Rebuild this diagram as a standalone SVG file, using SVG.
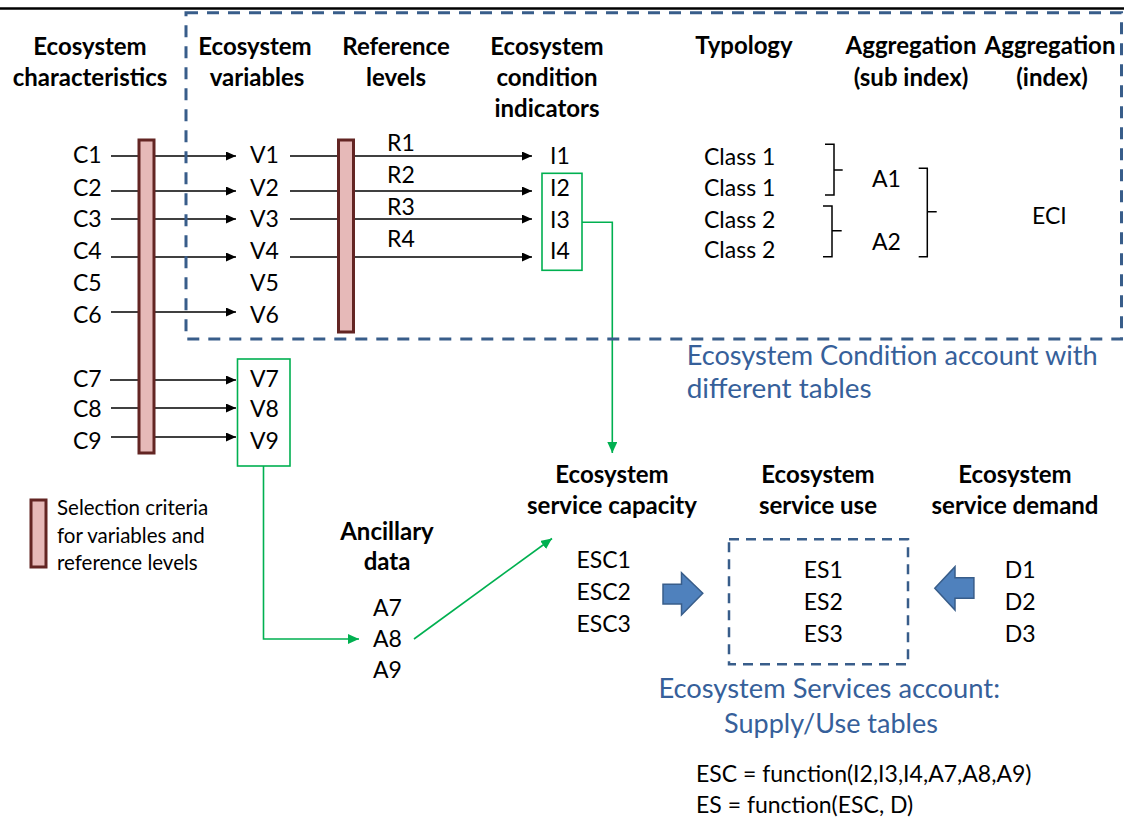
<svg xmlns="http://www.w3.org/2000/svg" width="1124" height="818" viewBox="0 0 1124 818">
<style>
text{font-family:Lato,"Liberation Sans",sans-serif;fill:#000}
.t{font-size:23px}
.h{font-size:24px;font-weight:bold;text-anchor:middle}
.lg{font-size:20.5px}
.b{font-size:27px;fill:#36609A}
.ln{stroke:#000;stroke-width:1.6;fill:none}
.gn{stroke:#00B050;stroke-width:1.6;fill:none}
.bar{fill:#E6B9B8;stroke:#632523;stroke-width:3}
.br{stroke:#000;stroke-width:1.5;fill:none}
.dash{fill:none;stroke:#385D8A;stroke-width:3;stroke-dasharray:12 9}
.bigarrow{fill:#4F81BD;stroke:#385D8A;stroke-width:1.5}
</style>
<defs>
<marker id="ah" markerUnits="userSpaceOnUse" markerWidth="10" markerHeight="9" refX="10" refY="4.5" orient="auto"><path d="M0,0 L10,4.5 L0,9 z" fill="#000"/></marker>
<marker id="ag" markerUnits="userSpaceOnUse" markerWidth="11" markerHeight="10" refX="11" refY="5" orient="auto"><path d="M0,0 L11,5 L0,10 z" fill="#00B050"/></marker>
</defs>
<line x1="0" y1="8.5" x2="1124" y2="8.5" stroke="#000" stroke-width="2.5"/>

<g id="connectors">
<line class="ln" x1="111" y1="156" x2="236" y2="156" marker-end="url(#ah)"/>
<line class="ln" x1="111" y1="191" x2="236" y2="191" marker-end="url(#ah)"/>
<line class="ln" x1="111" y1="219" x2="236" y2="219" marker-end="url(#ah)"/>
<line class="ln" x1="111" y1="257" x2="236" y2="257" marker-end="url(#ah)"/>
<line class="ln" x1="111" y1="312" x2="236" y2="312" marker-end="url(#ah)"/>
<line class="ln" x1="110" y1="380" x2="236" y2="380" marker-end="url(#ah)"/>
<line class="ln" x1="111" y1="408" x2="236" y2="408" marker-end="url(#ah)"/>
<line class="ln" x1="111" y1="437" x2="236" y2="437" marker-end="url(#ah)"/>
<line class="ln" x1="290" y1="156" x2="532" y2="156" marker-end="url(#ah)"/>
<line class="ln" x1="290" y1="191" x2="532" y2="191" marker-end="url(#ah)"/>
<line class="ln" x1="290" y1="219" x2="532" y2="219" marker-end="url(#ah)"/>
<line class="ln" x1="290" y1="257" x2="532" y2="257" marker-end="url(#ah)"/>
<polyline class="gn" points="582,222.3 612.3,222.3 612.3,453" marker-end="url(#ag)"/>
<polyline class="gn" points="263.5,466 263.5,639 359,639" marker-end="url(#ag)"/>
<line class="gn" x1="414" y1="639" x2="552" y2="538.5" marker-end="url(#ag)"/>
</g>

<g id="condition-account">
<rect class="dash" x="186" y="12.7" width="935.5" height="326.3"/>
<text class="b" x="686.7" y="365" textLength="411" lengthAdjust="spacingAndGlyphs">Ecosystem Condition account with</text>
<text class="b" x="686.7" y="398" textLength="185" lengthAdjust="spacingAndGlyphs">different tables</text>
</g>

<g id="headers">
<text class="h" x="90" y="55">Ecosystem</text>
<text class="h" x="90" y="86">characteristics</text>
<text class="h" x="255" y="55">Ecosystem</text>
<text class="h" x="257" y="86">variables</text>
<text class="h" x="396" y="55">Reference</text>
<text class="h" x="396" y="86">levels</text>
<text class="h" x="547" y="55">Ecosystem</text>
<text class="h" x="547" y="86">condition</text>
<text class="h" x="547" y="117">indicators</text>
<text class="h" x="744" y="54">Typology</text>
<text class="h" x="911" y="54">Aggregation</text>
<text class="h" x="911" y="86">(sub index)</text>
<text class="h" x="1050" y="54">Aggregation</text>
<text class="h" x="1052" y="86">(index)</text>
</g>

<g id="characteristics">
<text class="t" x="73" y="163">C1</text>
<text class="t" x="73" y="196">C2</text>
<text class="t" x="73" y="227">C3</text>
<text class="t" x="73" y="259">C4</text>
<text class="t" x="73" y="291">C5</text>
<text class="t" x="73" y="323">C6</text>
<text class="t" x="73" y="387">C7</text>
<text class="t" x="73" y="417">C8</text>
<text class="t" x="73" y="449">C9</text>
</g>
<rect id="selection-bar-1" class="bar" x="139" y="140" width="15" height="313"/>

<g id="variables">
<text class="t" x="250" y="163">V1</text>
<text class="t" x="250" y="196">V2</text>
<text class="t" x="250" y="227">V3</text>
<text class="t" x="250" y="259">V4</text>
<text class="t" x="250" y="291">V5</text>
<text class="t" x="250" y="323">V6</text>
</g>
<g id="variables-ancillary">
<rect x="237.5" y="359" width="52.5" height="107" fill="none" stroke="#00B050" stroke-width="1.6"/>
<text class="t" x="250" y="387">V7</text>
<text class="t" x="250" y="417">V8</text>
<text class="t" x="250" y="449">V9</text>
</g>
<rect id="selection-bar-2" class="bar" x="338.5" y="140" width="15" height="192"/>

<g id="reference-levels">
<text class="t" x="387" y="151">R1</text>
<text class="t" x="387" y="183">R2</text>
<text class="t" x="387" y="215">R3</text>
<text class="t" x="387" y="247">R4</text>
</g>

<g id="indicators">
<text class="t" x="550" y="164">I1</text>
<rect x="542" y="173.3" width="40" height="97" fill="none" stroke="#00B050" stroke-width="1.6"/>
<text class="t" x="550" y="196">I2</text>
<text class="t" x="550" y="228">I3</text>
<text class="t" x="550" y="259">I4</text>
</g>

<g id="typology">
<text class="t" x="704" y="165">Class 1</text>
<text class="t" x="704" y="196">Class 1</text>
<text class="t" x="704" y="228">Class 2</text>
<text class="t" x="704" y="258">Class 2</text>
</g>

<g id="sub-index">
<path class="br" d="M825,144.3 H834 V195 H825 M834,170 H842.7"/>
<path class="br" d="M823,206 H832 V256.7 H823 M832,230.7 H841.7"/>
<text class="t" x="872" y="187">A1</text>
<text class="t" x="872" y="250">A2</text>
</g>

<g id="index">
<path class="br" d="M918.7,168.3 H927.3 V256.7 H918.7 M927.3,211.7 H936.7"/>
<text class="t" x="1032" y="224">ECI</text>
</g>

<g id="legend">
<rect class="bar" x="31" y="500" width="15" height="67"/>
<text class="lg" x="57" y="515">Selection criteria</text>
<text class="lg" x="57" y="543">for variables and</text>
<text class="lg" x="57" y="570">reference levels</text>
</g>

<g id="ancillary-data">
<text class="h" x="387" y="540">Ancillary</text>
<text class="h" x="387" y="570">data</text>
<text class="t" x="373" y="616">A7</text>
<text class="t" x="373" y="647">A8</text>
<text class="t" x="373" y="678">A9</text>
</g>

<g id="service-capacity">
<text class="h" x="612" y="483">Ecosystem</text>
<text class="h" x="612" y="514">service capacity</text>
<text class="t" x="576.5" y="568">ESC1</text>
<text class="t" x="576.5" y="600">ESC2</text>
<text class="t" x="576.5" y="632">ESC3</text>
</g>

<path id="arrow-supply" class="bigarrow" d="M663,584.3 H681.5 V572.7 L702.8,593.3 L681.5,615 V604 H663 Z"/>

<g id="service-use">
<text class="h" x="818" y="483">Ecosystem</text>
<text class="h" x="818" y="514">service use</text>
<rect x="729" y="539.3" width="179" height="125" fill="none" stroke="#385D8A" stroke-width="2.5" stroke-dasharray="10 7"/>
<text class="t" x="803.7" y="578">ES1</text>
<text class="t" x="803.7" y="610">ES2</text>
<text class="t" x="803.7" y="642">ES3</text>
</g>

<path id="arrow-demand" class="bigarrow" d="M973.9,577.7 H955 V566.7 L934.8,588.3 L955,610 V598.3 H973.9 Z"/>

<g id="service-demand">
<text class="h" x="1015" y="483">Ecosystem</text>
<text class="h" x="1015" y="514">service demand</text>
<text class="t" x="1004.8" y="578">D1</text>
<text class="t" x="1004.8" y="610">D2</text>
<text class="t" x="1004.8" y="642">D3</text>
</g>

<g id="services-account-label">
<text class="b" x="658.4" y="698" textLength="341.6" lengthAdjust="spacingAndGlyphs">Ecosystem Services account:</text>
<text class="b" x="831" y="733" text-anchor="middle">Supply/Use tables</text>
</g>

<g id="formulas">
<text class="t" x="696" y="782">ESC = function(I2,I3,I4,A7,A8,A9)</text>
<text class="t" x="696" y="813">ES = function(ESC, D)</text>
</g>
</svg>
